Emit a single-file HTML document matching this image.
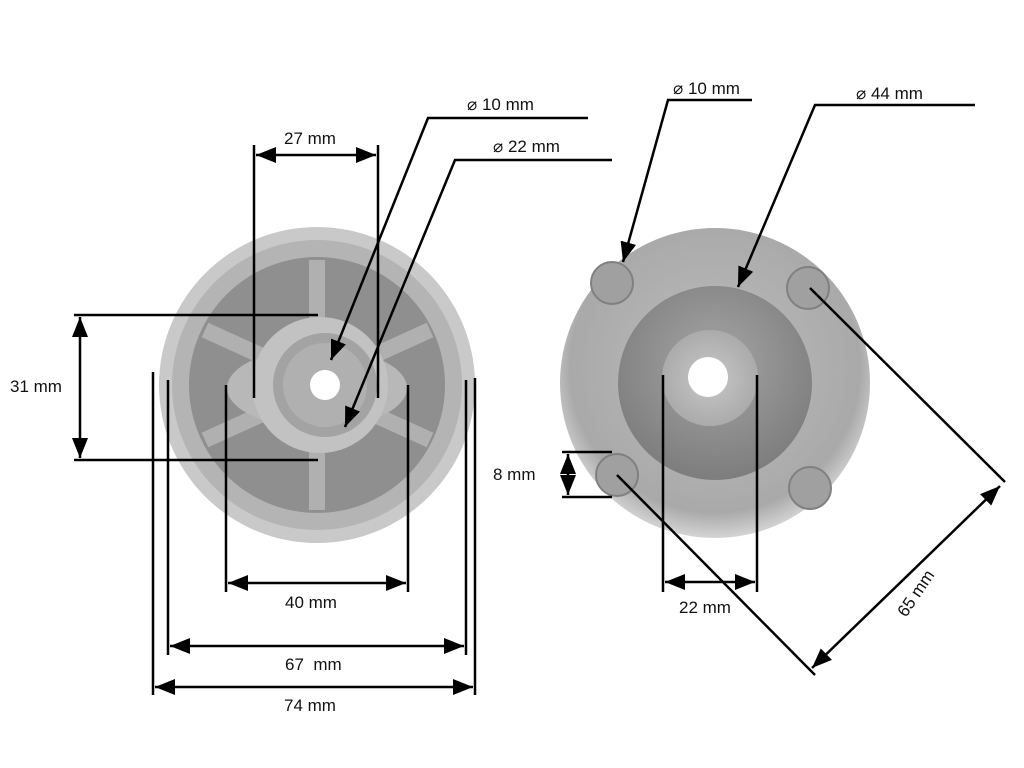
<!DOCTYPE html>
<html><head><meta charset="utf-8"><style>
html,body{margin:0;padding:0;background:#fff;}
svg{display:block;}
text{font-family:"Liberation Sans",sans-serif;font-size:17px;fill:#111;}
</style></head><body>
<svg width="1024" height="768" viewBox="0 0 1024 768" xmlns="http://www.w3.org/2000/svg">
<defs>
<radialGradient id="g1" cx="50%" cy="45%" r="55%"><stop offset="0" stop-color="#bdbdbd"/><stop offset="0.85" stop-color="#a9a9a9"/><stop offset="1" stop-color="#d4d4d4"/></radialGradient>
<radialGradient id="g2" cx="50%" cy="40%" r="60%"><stop offset="0" stop-color="#a5a5a5"/><stop offset="1" stop-color="#7d7d7d"/></radialGradient>
<radialGradient id="g3" cx="50%" cy="50%" r="55%"><stop offset="0" stop-color="#c8c8c8"/><stop offset="1" stop-color="#a8a8a8"/></radialGradient>
<marker id="a" viewBox="0 0 10 10" refX="10" refY="5" markerWidth="8" markerHeight="8" orient="auto-start-reverse"><path d="M0,1 L10,5 L0,9 z" fill="#000"/></marker>
</defs>

<!-- left part -->
<circle cx="317" cy="385" r="158" fill="#c9c9c9"/>
<circle cx="317" cy="385" r="145" fill="#b4b4b4"/>
<circle cx="317" cy="385" r="128" fill="#8f8f8f"/>
<g stroke="#b0b0b0" stroke-width="16">
<line x1="317" y1="260" x2="317" y2="320"/><line x1="317" y1="450" x2="317" y2="510"/>
<line x1="205" y1="330" x2="260" y2="355"/><line x1="430" y1="330" x2="375" y2="355"/>
<line x1="205" y1="440" x2="260" y2="415"/><line x1="430" y1="440" x2="375" y2="415"/>
</g>
<ellipse cx="317" cy="388" rx="90" ry="40" fill="#b8b8b8"/>
<circle cx="320" cy="385" r="68" fill="#c2c2c2"/>
<circle cx="325" cy="385" r="52" fill="#a3a3a3"/>
<circle cx="325" cy="385" r="42" fill="#b0b0b0"/>
<circle cx="325" cy="385" r="15" fill="#fff"/>

<!-- right part -->
<circle cx="715" cy="383" r="155" fill="url(#g1)"/>
<circle cx="715" cy="383" r="97" fill="url(#g2)"/>
<circle cx="710" cy="378" r="48" fill="url(#g3)"/>
<circle cx="708" cy="377" r="20" fill="#fff"/>
<g fill="#a0a0a0" stroke="#808080" stroke-width="2">
<circle cx="612" cy="283" r="21"/><circle cx="808" cy="288" r="21"/>
<circle cx="617" cy="475" r="21"/><circle cx="810" cy="488" r="21"/>
</g>

<g stroke="#000" stroke-width="2.5" fill="none">
<!-- 27 -->
<line x1="254" y1="145" x2="254" y2="398"/><line x1="378" y1="145" x2="378" y2="398"/>
<line x1="256" y1="155" x2="376" y2="155" marker-start="url(#a)" marker-end="url(#a)"/>
<!-- d10 left -->
<polyline points="588,118 428,118 331,360" marker-end="url(#a)"/>
<!-- d22 left -->
<polyline points="612,160 455,160 345,427" marker-end="url(#a)"/>
<!-- 31 -->
<line x1="74" y1="315" x2="318" y2="315"/><line x1="74" y1="460" x2="318" y2="460"/>
<line x1="80" y1="317" x2="80" y2="458" marker-start="url(#a)" marker-end="url(#a)"/>
<!-- 40 -->
<line x1="226" y1="385" x2="226" y2="592"/><line x1="408" y1="385" x2="408" y2="592"/>
<line x1="228" y1="583" x2="406" y2="583" marker-start="url(#a)" marker-end="url(#a)"/>
<!-- 67 -->
<line x1="168" y1="380" x2="168" y2="655"/><line x1="466" y1="380" x2="466" y2="655"/>
<line x1="170" y1="646" x2="464" y2="646" marker-start="url(#a)" marker-end="url(#a)"/>
<!-- 74 -->
<line x1="153" y1="372" x2="153" y2="695"/><line x1="475" y1="378" x2="475" y2="695"/>
<line x1="155" y1="687" x2="473" y2="687" marker-start="url(#a)" marker-end="url(#a)"/>
<!-- d10 right -->
<polyline points="752,100 668,100 623,262" marker-end="url(#a)"/>
<!-- d44 -->
<polyline points="975,105 815,105 738,287" marker-end="url(#a)"/>
<!-- 8 -->
<line x1="562" y1="452" x2="612" y2="452"/><line x1="562" y1="497" x2="612" y2="497"/>
<line x1="568" y1="454" x2="568" y2="495" marker-start="url(#a)" marker-end="url(#a)"/>
<!-- 22 -->
<line x1="663" y1="375" x2="663" y2="592"/><line x1="757" y1="375" x2="757" y2="592"/>
<line x1="665" y1="582" x2="755" y2="582" marker-start="url(#a)" marker-end="url(#a)"/>
<!-- 65 -->
<line x1="810" y1="288" x2="1005" y2="482"/>
<line x1="617" y1="475" x2="815" y2="675"/>
<line x1="812" y1="668" x2="1000" y2="486" marker-start="url(#a)" marker-end="url(#a)"/>
</g>

<text x="284" y="144">27 mm</text>
<text x="467" y="110">⌀ 10 mm</text>
<text x="493" y="152">⌀ 22 mm</text>
<text x="10" y="392">31 mm</text>
<text x="285" y="608">40 mm</text>
<text x="285" y="670">67&#160; mm</text>
<text x="284" y="711">74 mm</text>
<text x="673" y="94">⌀ 10 mm</text>
<text x="856" y="99">⌀ 44 mm</text>
<text x="493" y="480">8 mm</text>
<text x="679" y="613">22 mm</text>
<text x="0" y="0" transform="translate(906,618) rotate(-56)">65 mm</text>
</svg>
</body></html>
